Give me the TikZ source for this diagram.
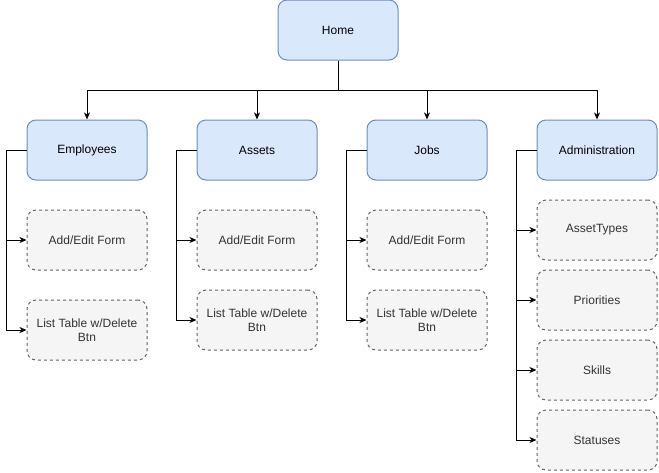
\documentclass[tikz,border=0pt]{standalone}
\usepackage{fontspec}
\setmainfont{Liberation Sans}
\usetikzlibrary{arrows.meta}
\definecolor{bluefill}{HTML}{DAE8FC}
\definecolor{bluedraw}{HTML}{6C8EBF}
\definecolor{grayfill}{HTML}{F5F5F5}
\definecolor{graydraw}{HTML}{666666}
\definecolor{graytext}{HTML}{333333}
\tikzset{
  mainbox/.style={draw=bluedraw, fill=bluefill, rounded corners=9pt, line width=1pt,
    minimum width=120pt, minimum height=60pt, inner sep=2pt, align=center,
    font=\fontsize{12}{14}\selectfont},
  subbox/.style={draw=graydraw, fill=grayfill, rounded corners=9pt, line width=1pt,
    dash pattern=on 3pt off 3pt, text=graytext,
    minimum width=120pt, minimum height=60pt, inner sep=2pt, align=center,
    font=\fontsize{12}{14}\selectfont},
  conn/.style={line width=1pt, -{Stealth[length=7pt,width=6pt,inset=2pt]}},
}
\begin{document}
\begin{tikzpicture}[x=1pt,y=-1pt]
\useasboundingbox (0,0) rectangle (659,472);
\node[mainbox] (home) at (338,30) {Home};
\node[mainbox] (emp) at (87,150) {Employees};
\node[mainbox] (ast) at (257,150) {Assets};
\node[mainbox] (job) at (427,150) {Jobs};
\node[mainbox] (adm) at (597,150) {Administration};

\node[subbox] (empadd) at (87,240) {Add/Edit Form};
\node[subbox] (emplist) at (87,330) {List Table w/Delete\\Btn};
\node[subbox] (astadd) at (257,240) {Add/Edit Form};
\node[subbox] (astlist) at (257,320) {List Table w/Delete\\Btn};
\node[subbox] (jobadd) at (427,240) {Add/Edit Form};
\node[subbox] (joblist) at (427,320) {List Table w/Delete\\Btn};
\node[subbox] (admtypes) at (597,230) {AssetTypes};
\node[subbox] (admprio) at (597,300) {Priorities};
\node[subbox] (admskills) at (597,370) {Skills};
\node[subbox] (admstat) at (597,440) {Statuses};

\coordinate (bus) at (338,90);
\foreach \n in {emp,ast,job,adm}
  \draw[conn] (home.south) -- (bus) -| (\n.north);

\draw[conn] (emp.west) -- ++(-20,0) |- (empadd.west);
\draw[conn] (emp.west) -- ++(-20,0) |- (emplist.west);
\draw[conn] (ast.west) -- ++(-20,0) |- (astadd.west);
\draw[conn] (ast.west) -- ++(-20,0) |- (astlist.west);
\draw[conn] (job.west) -- ++(-20,0) |- (jobadd.west);
\draw[conn] (job.west) -- ++(-20,0) |- (joblist.west);
\foreach \n in {admtypes,admprio,admskills,admstat}
  \draw[conn] (adm.west) -- ++(-20,0) |- (\n.west);
\end{tikzpicture}
\end{document}
